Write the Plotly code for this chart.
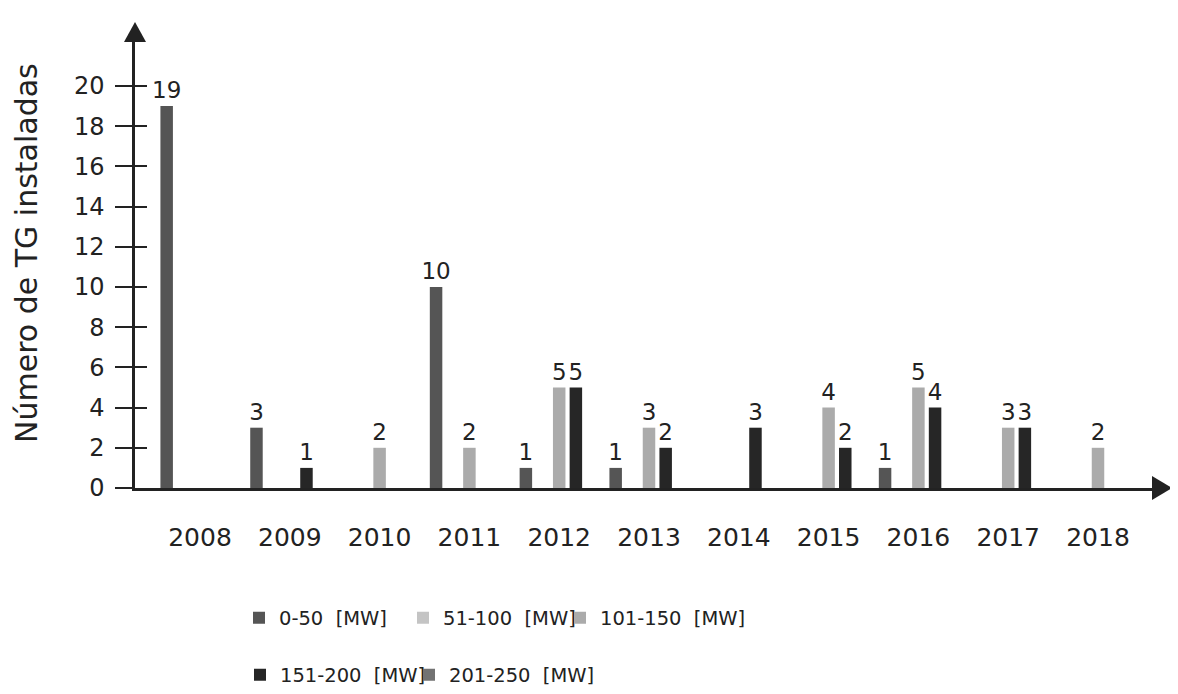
import plotly.graph_objects as go

years = ["2008", "2009", "2010", "2011", "2012", "2013", "2014", "2015", "2016", "2017", "2018"]
names = ["0-50  [MW]", "51-100  [MW]", "101-150  [MW]", "151-200  [MW]", "201-250  [MW]"]
s_0_50 = [19, 3, 0, 10, 1, 1, 0, 0, 1, 0, 0]
s_51_100 = [0, 0, 0, 0, 0, 0, 0, 0, 0, 0, 0]
s_101_150 = [0, 0, 2, 2, 5, 3, 0, 4, 5, 3, 2]
s_151_200 = [0, 1, 0, 0, 5, 2, 3, 2, 4, 3, 0]
s_201_250 = [0, 0, 0, 0, 0, 0, 0, 0, 0, 0, 0]
y_ticks = [0, 2, 4, 6, 8, 10, 12, 14, 16, 18, 20]
y_title = "Número de TG instaladas"

series = [s_0_50, s_51_100, s_101_150, s_151_200, s_201_250]
colors = ["#555555", "#c4c4c4", "#ababab", "#262626", "#727272"]

# the page has an 8px body margin, so the figure is drawn 8px smaller on each side
W, H = 1162, 678
L, R = 127, 1144          # plot area left/right in px (figure coords)
T, B = 34, 480            # plot area top/bottom in px (figure coords)
FONT = "DejaVu Sans"
INK = "#222222"

def px_x(px):
    return (px - L) / (R - L)

def px_y(py):
    return (B - py) / (B - T)

fig = go.Figure()
legend_ids = ["legend", "legend2", "legend3", "legend4", "legend5"]
for name, vals, col, lid in zip(names, series, colors, legend_ids):
    fig.add_trace(go.Bar(
        x=years, y=vals, name=name,
        marker=dict(color=col, line=dict(width=0)),
        text=[str(v) if v else "" for v in vals],
        textposition="outside",
        textfont=dict(family=FONT, size=23, color=INK),
        constraintext="none",
        cliponaxis=False,
        legend=lid,
        showlegend=True,
    ))

# helper trace on overlay axis that carries the inside half of the crossing ticks
fig.add_trace(go.Scatter(x=[None], y=[None], yaxis="y2", showlegend=False, hoverinfo="skip"))

cat_w = 89.8
x0 = -(192 - L) / cat_w
x1 = x0 + (R - L) / cat_w
ytop = (B - T) / ((B - 78) / 20)

leg_common = dict(font=dict(family=FONT, size=19.5, color=INK), bgcolor="rgba(0,0,0,0)",
                  xref="container", yref="container", xanchor="left", yanchor="middle",
                  orientation="h", itemwidth=30)
row1 = 1 - 610 / H
row2 = 1 - 667 / H
legend_pos = [(231, row1), (395, row1), (552, row1), (232, row2), (401, row2)]

layout_legends = {}
for lid, (lx, ly) in zip(legend_ids, legend_pos):
    layout_legends[lid] = dict(x=lx / W, y=ly, **leg_common)

fig.update_layout(
    width=W, height=H,
    margin=dict(l=L, r=W - R, t=T, b=H - B, autoexpand=False),
    plot_bgcolor="white", paper_bgcolor="white",
    barmode="group", bargap=0.072, bargroupgap=0.25,
    font=dict(family=FONT, color=INK),
    xaxis=dict(type="category", range=[x0, x1], showgrid=False, zeroline=False,
               showline=True, linecolor=INK, linewidth=2.5,
               ticks="", tickfont=dict(family=FONT, size=25, color=INK),
               ticklabelstandoff=25, fixedrange=True),
    yaxis=dict(range=[0, ytop], tickvals=y_ticks, showgrid=False, zeroline=False,
               showline=True, linecolor=INK, linewidth=2.5,
               ticks="outside", ticklen=17, tickwidth=2, tickcolor=INK,
               tickfont=dict(family=FONT, size=24, color=INK),
               ticklabelstandoff=6, fixedrange=True),
    yaxis2=dict(range=[0, ytop], tickvals=y_ticks[1:], overlaying="y", side="left",
                showgrid=False, zeroline=False, showline=False,
                ticks="inside", ticklen=12, tickwidth=2, tickcolor=INK,
                showticklabels=False, fixedrange=True),
    **layout_legends,
)

# y-axis title
fig.add_annotation(text=y_title, xref="paper", yref="paper",
                   x=px_x(18), y=px_y(245), xanchor="center", yanchor="middle",
                   textangle=-90, showarrow=False,
                   font=dict(family=FONT, size=30, color=INK))

# arrowheads
fig.add_shape(type="path", xref="paper", yref="paper",
              path=f"M {px_x(L-11)},{px_y(T)} L {px_x(L+11)},{px_y(T)} L {px_x(L)},{px_y(14)} Z",
              fillcolor=INK, line=dict(width=0))
fig.add_shape(type="path", xref="paper", yref="paper",
              path=f"M {px_x(R)},{px_y(B-12)} L {px_x(R)},{px_y(B+12)} L {px_x(1164)},{px_y(B)} Z",
              fillcolor=INK, line=dict(width=0))

fig.write_html("out.html")
